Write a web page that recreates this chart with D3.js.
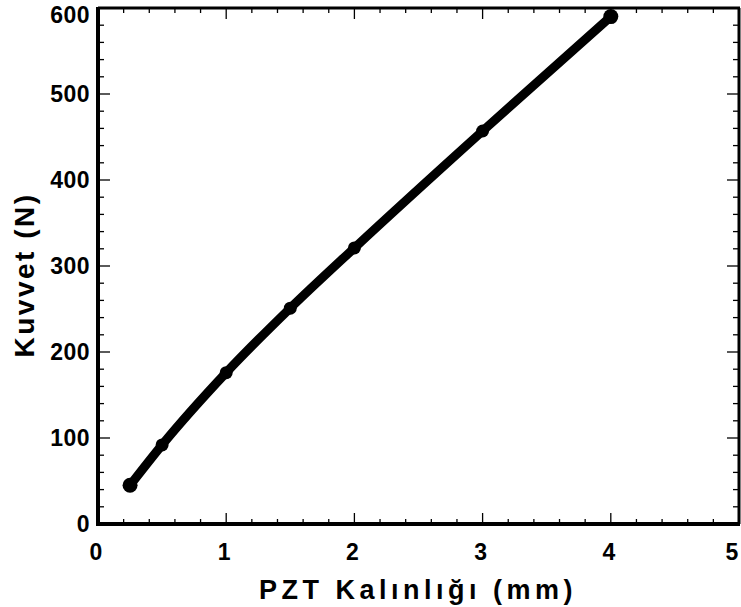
<!DOCTYPE html>
<html>
<head>
<meta charset="utf-8">
<script src="https://cdn.jsdelivr.net/npm/d3@7"></script>
<style>
  body { margin: 0; background: #fff; }
  text { font-family: "Liberation Sans", Arial, sans-serif; font-weight: bold; fill: #000; }
</style>
</head>
<body>
<script>
// PZT thickness (mm) vs force (N)
var thickness = [0.25, 0.5, 1, 1.5, 2, 3, 4];
var force = [45, 92, 176, 251, 321, 457, 590];
var xTicks = [0, 1, 2, 3, 4, 5];
var yTicks = [0, 100, 200, 300, 400, 500, 600];

function init() {
    var w = 741, h = 607;
    var left = 98, right = 739, top = 8, bottom = 524;

    var x = d3.scaleLinear().domain([0, 5]).range([left, right]);
    var y = d3.scaleLinear().domain([0, 600]).range([bottom, top]);

    var svg = d3.select("body").append("svg")
        .attr("width", w)
        .attr("height", h);

    // minor + major ticks, pointing inward
    var xMinor = d3.range(0, 5.001, 0.2);
    var yMinor = d3.range(0, 600.1, 20);

    var g = svg.append("g").attr("stroke", "#000");
    xMinor.forEach(function(d) {
        var major = Math.abs(d - Math.round(d)) < 1e-6;
        var len = major ? 11 : 5;
        g.append("line").attr("x1", x(d)).attr("x2", x(d))
            .attr("y1", bottom).attr("y2", bottom - len).attr("stroke-width", 1.3);
        g.append("line").attr("x1", x(d)).attr("x2", x(d))
            .attr("y1", top).attr("y2", top + len).attr("stroke-width", 1.3);
    });
    yMinor.forEach(function(d) {
        var major = d % 100 === 0;
        var len = major ? 12 : 6;
        g.append("line").attr("y1", y(d)).attr("y2", y(d))
            .attr("x1", left).attr("x2", left + len).attr("stroke-width", 1.3);
        g.append("line").attr("y1", y(d)).attr("y2", y(d))
            .attr("x1", right).attr("x2", right - len).attr("stroke-width", 1.3);
    });

    // frame
    svg.append("line").attr("x1", left).attr("x2", left).attr("y1", top - 1).attr("y2", bottom + 2)
        .attr("stroke", "#000").attr("stroke-width", 4);
    svg.append("line").attr("x1", left - 2).attr("x2", right + 1).attr("y1", bottom).attr("y2", bottom)
        .attr("stroke", "#000").attr("stroke-width", 4);
    svg.append("line").attr("x1", left).attr("x2", right + 1).attr("y1", top).attr("y2", top)
        .attr("stroke", "#000").attr("stroke-width", 3);
    svg.append("line").attr("x1", right).attr("x2", right).attr("y1", top).attr("y2", bottom)
        .attr("stroke", "#000").attr("stroke-width", 3);

    // tick labels
    svg.selectAll(".xl").data(xTicks).enter().append("text")
        .attr("x", function(d) { return Math.min(x(d) - 2, 732); })
        .attr("y", 560)
        .attr("text-anchor", "middle")
        .attr("font-size", 23)
        .text(function(d) { return d; });

    svg.selectAll(".yl").data(yTicks).enter().append("text")
        .attr("x", 90)
        .attr("y", function(d) { return Math.max(y(d), 15) + 8; })
        .attr("text-anchor", "end")
        .attr("font-size", 23)
        .attr("letter-spacing", 0.5)
        .text(function(d) { return d; });

    // axis titles
    svg.append("text")
        .attr("x", 418).attr("y", 599)
        .attr("text-anchor", "middle")
        .attr("font-size", 27)
        .attr("letter-spacing", 4.5)
        .text("PZT Kalınlığı (mm)");

    svg.append("text")
        .attr("transform", "translate(34,275) rotate(-90)")
        .attr("text-anchor", "middle")
        .attr("font-size", 28)
        .attr("letter-spacing", 2.5)
        .text("Kuvvet (N)");

    // data line
    var pts = thickness.map(function(d, i) { return [d, force[i]]; });
    var line = d3.line()
        .x(function(d) { return x(d[0]); })
        .y(function(d) { return y(d[1]); })
        .curve(d3.curveMonotoneX);

    svg.append("path")
        .datum(pts)
        .attr("d", line)
        .attr("fill", "none")
        .attr("stroke", "#000")
        .attr("stroke-width", 9)
        .attr("stroke-linejoin", "round");

    svg.selectAll("circle").data(pts).enter().append("circle")
        .attr("cx", function(d) { return x(d[0]); })
        .attr("cy", function(d) { return y(d[1]); })
        .attr("r", function(d, i) { return i === 0 || i === pts.length - 1 ? 7.5 : 6.5; })
        .attr("fill", "#000");
}
window.onload = init;
</script>
</body>
</html>
